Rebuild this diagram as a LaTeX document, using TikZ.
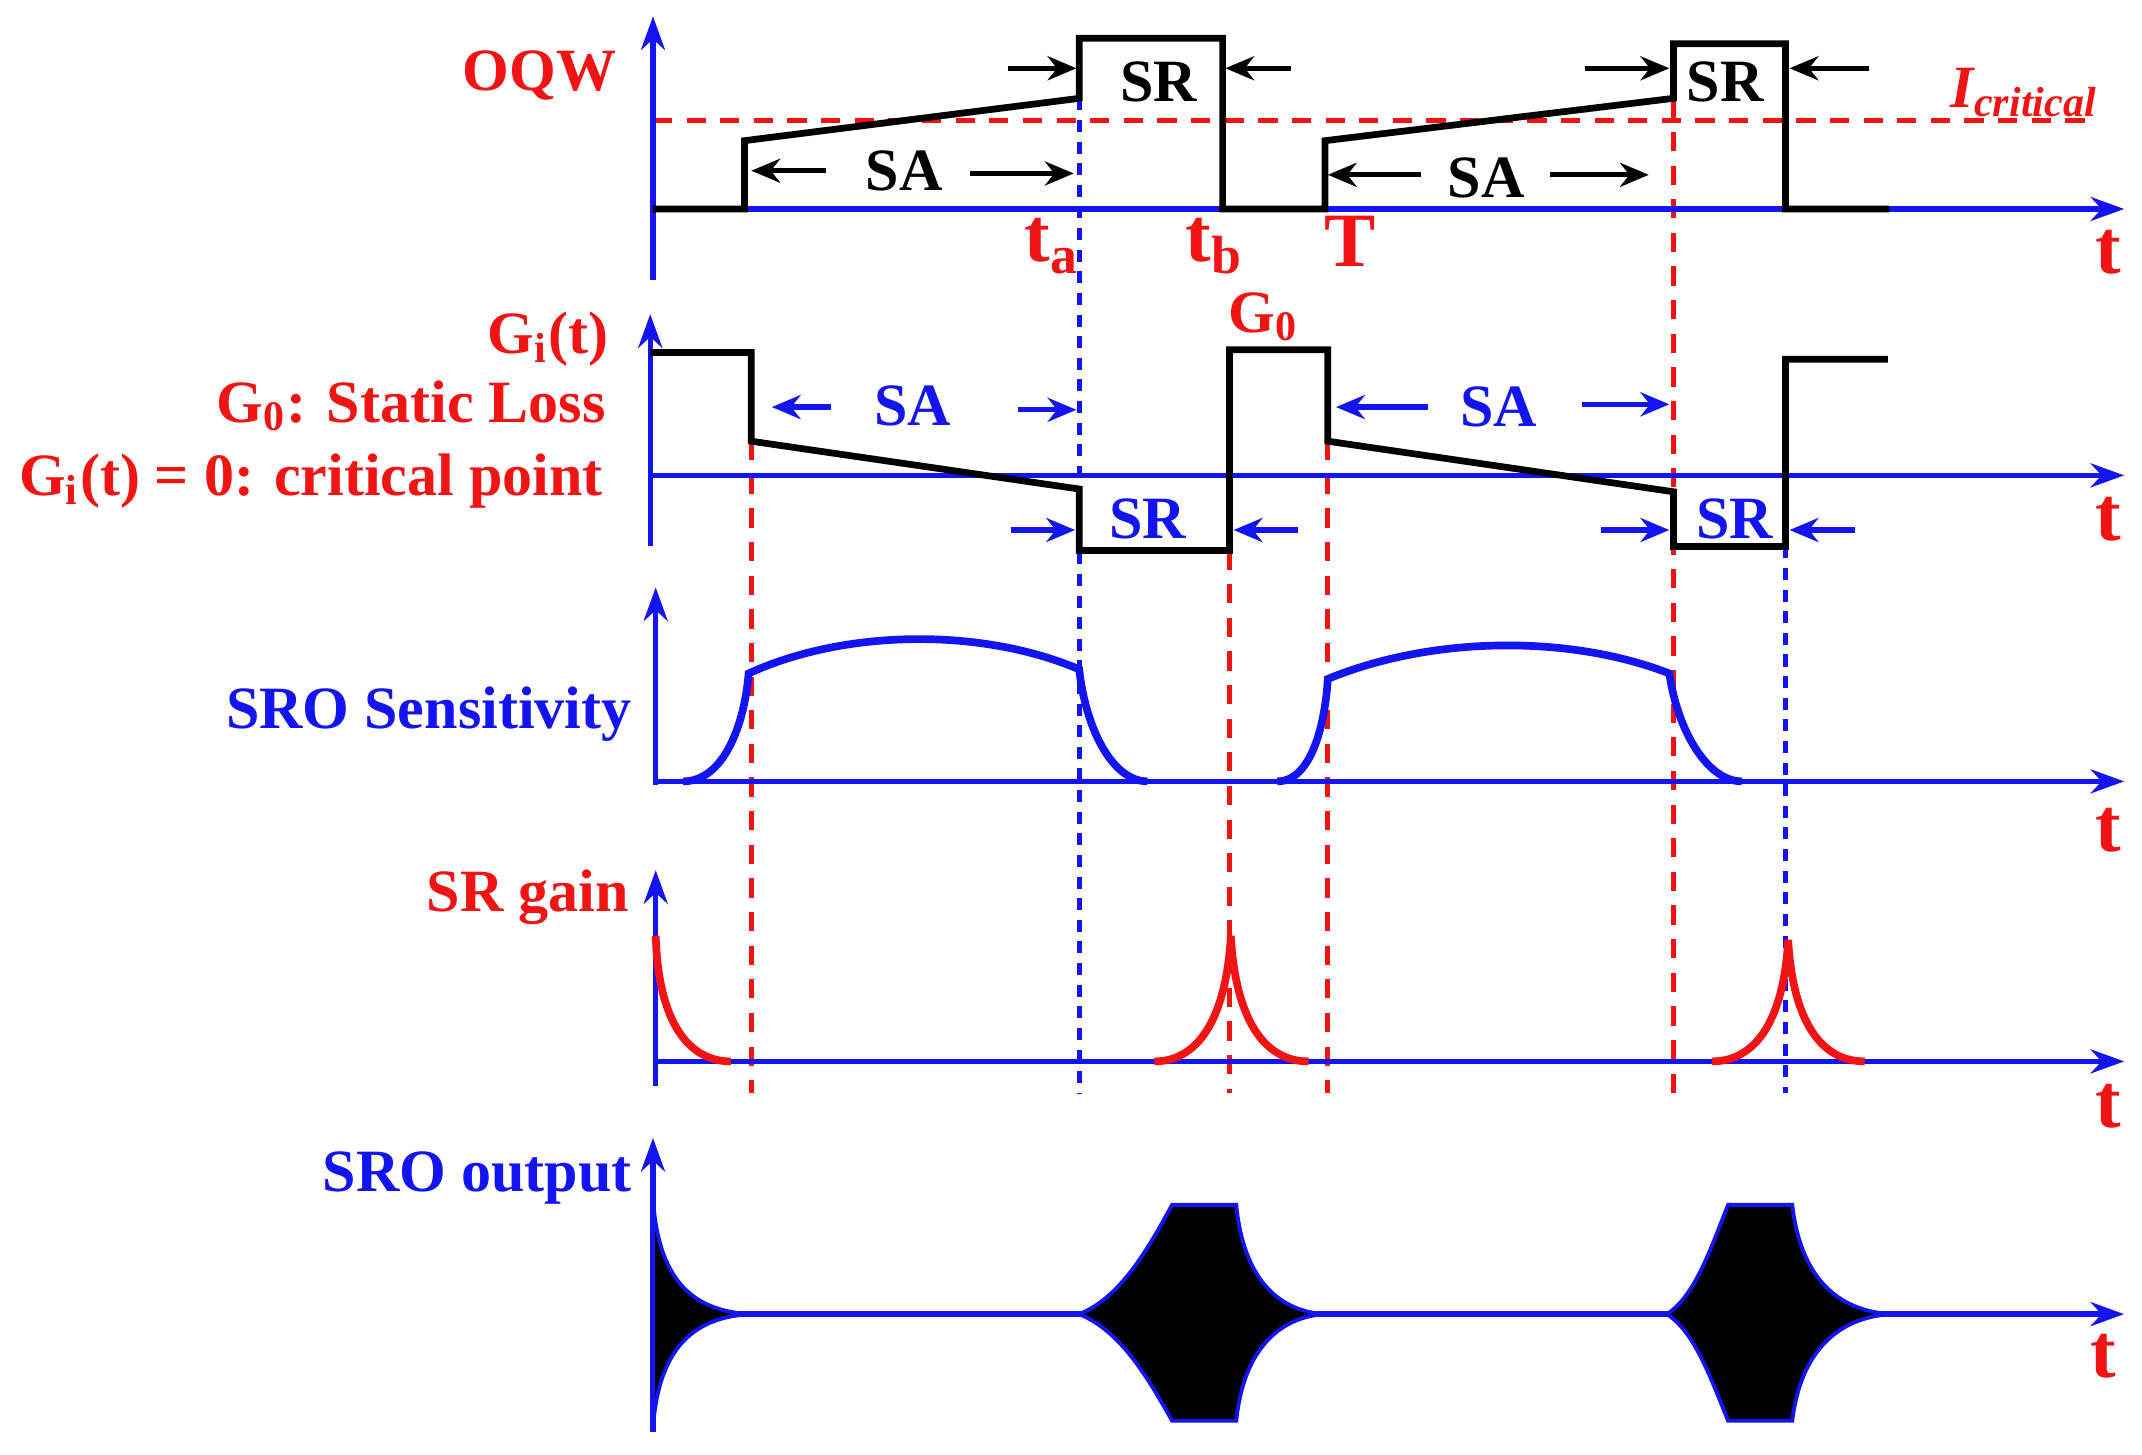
\documentclass[tikz,border=0pt]{standalone}
\usepackage{fontspec}
\setmainfont{Liberation Serif}
\usetikzlibrary{arrows.meta}
\definecolor{myred}{RGB}{240,20,20}
\definecolor{myblue}{RGB}{20,20,240}
\begin{document}
\begin{tikzpicture}[x=0.01cm,y=-0.01cm,
 ax/.style={myblue,line width=1.1pt,-{Stealth[length=7pt,width=5pt]}},
 wave/.style={black,line width=1.4pt},
 ar/.style={line width=1.1pt,-{Stealth[length=6pt,width=5pt]}},
 lbl/.style={font=\bfseries\fontsize{12.5}{14}\selectfont,inner sep=0pt},
 tl/.style={font=\bfseries\fontsize{16}{18}\selectfont,myred,inner sep=0pt},
 vr/.style={myred,line width=1pt,dash pattern=on 4pt off 3pt},
 vb/.style={myblue,line width=1pt,dash pattern=on 2.5pt off 2pt}]
\useasboundingbox (0,0) rectangle (1568,1065);
% vertical guides
\draw[vb] (790,72) -- (790,800);
\draw[vr] (1225,72) -- (1225,800);
\draw[vr] (550,323) -- (550,800);
\draw[vr] (900,403) -- (900,800);
\draw[vr] (972,323) -- (972,800);
\draw[vb] (1307,400) -- (1307,800);
% Panel 1
\draw[vr] (478,88) -- (1530,88);
\draw[ax] (478,205) -- (478,12);
\draw[ax] (478,153) -- (1555,153);
\draw[wave] (478,153)--(545,153)--(545,103)--(790,72)--(790,28)--(895,28)--(895,153)--(970,153)--(970,103)--(1225,72)--(1225,32)--(1307,32)--(1307,153)--(1383,153);
\node[lbl,myred] (oqw) at (395,55) {OQW};
\node[lbl,myred,font=\bfseries\itshape\fontsize{12.5}{14}\selectfont] (ic) at (1482,68) {I\textsubscript{critical}};
\node[lbl] (sr1) at (848,60) {SR};
\node[lbl] (sa1) at (662,125) {SA};
\node[lbl] (sr2) at (1263,60) {SR};
\node[lbl] (sa2) at (1088,130) {SA};
\draw[ar] (605,125) -- (550,125); \draw[ar] (710,127) -- (786,127);
\draw[ar] (738,50) -- (788,50); \draw[ar] (945,50) -- (897,50);
\draw[ar] (1040,128) -- (972,128); \draw[ar] (1135,128) -- (1207,128);
\draw[ar] (1160,50) -- (1222,50); \draw[ar] (1368,50) -- (1310,50);
\node[tl] (ta) at (770,180) {t\textsubscript{a}};
\node[tl] (tb) at (889,180) {t\textsubscript{b}};
\node[tl] (T) at (988,177) {T};
\node[tl] (t1) at (1543,185) {t};
% Panel 2
\draw[ax] (476,400) -- (476,230);
\draw[ax] (476,348) -- (1555,348);
\draw[wave] (476,258)--(550,258)--(550,323)--(790,358)--(790,403)--(900,403)--(900,256)--(972,256)--(972,323)--(1225,360)--(1225,400)--(1307,400)--(1307,263)--(1382,263);
\node[lbl,myred,anchor=east] (gi) at (446,248) {G\textsubscript{i}(t)};
\node[lbl,myred,anchor=east] (g0s) at (444,297) {G\textsubscript{0}: Static Loss};
\node[lbl,myred,anchor=east] (gcp) at (442,352) {G\textsubscript{i}(t) = 0: critical point};
\node[lbl,myred] (g0) at (925,232) {G\textsubscript{0}};
\node[lbl,myblue] (sa3) at (668,297) {SA};
\node[lbl,myblue] (sr3) at (840,380) {SR};
\node[lbl,myblue] (sa4) at (1097,298) {SA};
\node[lbl,myblue] (sr4) at (1270,380) {SR};
\begin{scope}[myblue]
\draw[ar] (608,298) -- (565,298); \draw[ar] (745,300) -- (788,300);
\draw[ar] (740,388) -- (787,388); \draw[ar] (950,388) -- (903,388);
\draw[ar] (1045,298) -- (978,298); \draw[ar] (1158,296) -- (1222,296);
\draw[ar] (1172,388) -- (1222,388); \draw[ar] (1358,388) -- (1310,388);
\end{scope}
\node[tl] (t2) at (1543,380) {t};
% Panel 3
\draw[ax] (480,575) -- (480,430);
\draw[ax] (480,572) -- (1555,572);
\draw[myblue,line width=1.6pt] (500,572) .. controls (530,572) and (545,530) .. (548,493) .. controls (620,460) and (720,460) .. (790,490) .. controls (795,535) and (815,572) .. (840,572);
\draw[myblue,line width=1.6pt] (935,572) .. controls (960,572) and (970,530) .. (972,497) .. controls (1050,465) and (1150,465) .. (1222,493) .. controls (1228,535) and (1250,572) .. (1275,572);
\node[lbl,myblue,anchor=east] (sens) at (463,523) {SRO Sensitivity};
\node[tl] (t3) at (1543,608) {t};
% Panel 4
\draw[ax] (480,795) -- (480,637);
\draw[ax] (480,777) -- (1555,777);
\begin{scope}[myred,line width=1.6pt]
\draw (480,685) .. controls (482,750) and (505,777) .. (535,777);
\draw (845,777) .. controls (880,777) and (898,740) .. (901,685) .. controls (904,740) and (922,777) .. (958,777);
\draw (1253,777) .. controls (1288,777) and (1306,742) .. (1309,688) .. controls (1312,742) and (1330,777) .. (1365,777);
\end{scope}
\node[lbl,myred,anchor=east] (srg) at (461,657) {SR gain};
\node[tl] (t4) at (1543,810) {t};
% Panel 5
\draw[ax] (478,1048) -- (478,833);
\draw[ax] (478,962) -- (1555,962);
\begin{scope}[fill=black,draw=myblue,line width=0.8pt]
\filldraw (478,878) .. controls (482,935) and (505,960) .. (550,962) .. controls (505,964) and (482,990) .. (478,1045) -- cycle;
\filldraw (790,962) .. controls (820,950) and (840,915) .. (858,882) -- (905,882) .. controls (910,935) and (935,960) .. (970,962) .. controls (935,964) and (910,990) .. (905,1040) -- (858,1040) .. controls (840,1008) and (820,974) .. (790,962) -- cycle;
\filldraw (1220,962) .. controls (1240,950) and (1252,915) .. (1265,882) -- (1312,882) .. controls (1318,935) and (1345,960) .. (1385,962) .. controls (1345,964) and (1318,990) .. (1312,1040) -- (1265,1040) .. controls (1252,1008) and (1240,974) .. (1220,962) -- cycle;
\end{scope}
\node[lbl,myblue,anchor=east] (out) at (463,862) {SRO output};
\node[tl] (t5) at (1540,993) {t};
\end{tikzpicture}
\end{document}
